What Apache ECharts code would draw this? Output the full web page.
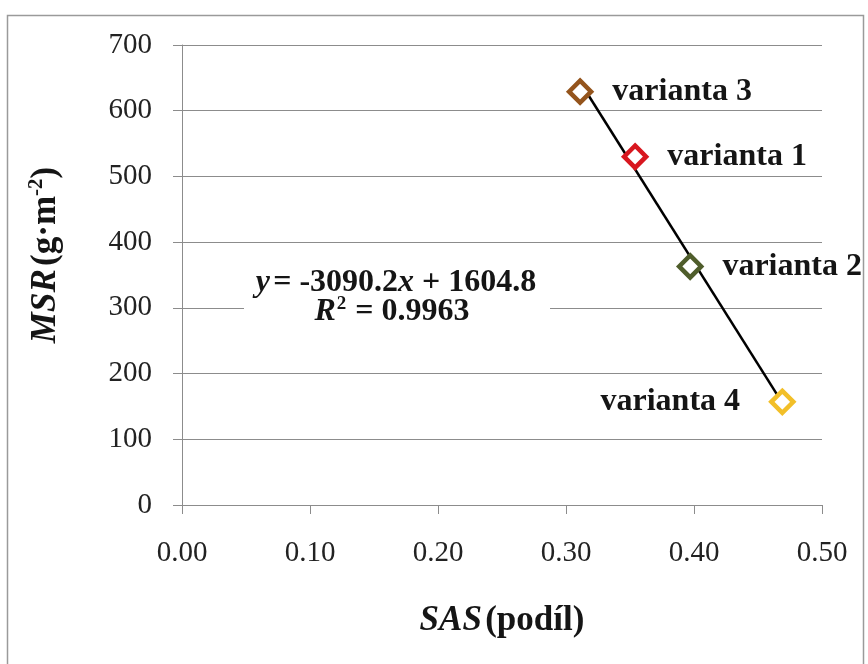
<!DOCTYPE html>
<html>
<head>
<meta charset="utf-8">
<script src="https://cdn.jsdelivr.net/npm/echarts@6/dist/echarts.min.js"></script>
<style>
  html, body { margin: 0; padding: 0; background: #ffffff; }
  #chart { width: 868px; height: 664px; }
</style>
</head>
<body>
<div id="chart"></div>
<script>
// Variants and their measured values
const categories = ['varianta 1', 'varianta 2', 'varianta 3', 'varianta 4'];
const sasValues = [0.354, 0.397, 0.311, 0.469];   // SAS (podíl)
const msrValues = [530, 363, 629, 157];           // MSR (g·m-2)
const markerColors = ['#d8171f', '#4f5d2b', '#94541c', '#f2bf28'];
const labelSides = ['right', 'right', 'right', 'left'];
const labelGaps = [19, 19, 19, 29];

// Axis ticks
const xTickValues = [0.0, 0.1, 0.2, 0.3, 0.4, 0.5];
const yTickValues = [0, 100, 200, 300, 400, 500, 600, 700];

// Linear trend line
const trendSlope = -3090.2;
const trendIntercept = 1604.8;
const trendR2 = 0.9963;

const serif = '"Liberation Serif", "Times New Roman", serif';
const ink = '#151515';

const pointData = categories.map((name, i) => ({
  name: name,
  value: [sasValues[i], msrValues[i]],
  itemStyle: { color: '#ffffff', borderColor: markerColors[i], borderWidth: 4.5, opacity: 1 },
  label: { position: labelSides[i], distance: labelGaps[i] }
}));

const xMin = Math.min(...sasValues);
const xMax = Math.max(...sasValues);
const trendData = [
  [xMin, trendSlope * xMin + trendIntercept],
  [xMax, trendSlope * xMax + trendIntercept]
];

const chart = echarts.init(document.getElementById('chart'), null, { renderer: 'canvas' });

chart.setOption({
  backgroundColor: '#ffffff',
  animation: false,
  grid: { left: 182, right: 46, top: 45, bottom: 159, containLabel: false },
  xAxis: {
    type: 'value',
    min: xTickValues[0],
    max: xTickValues[xTickValues.length - 1],
    interval: 0.1,
    axisLine: { lineStyle: { color: '#8c8c8c', width: 1 } },
    axisTick: { show: true, length: 9, lineStyle: { color: '#8c8c8c' } },
    splitLine: { show: false },
    axisLabel: {
      color: '#222', fontFamily: serif, fontSize: 29, margin: 34,
      formatter: v => v.toFixed(2)
    },
    name: '{i|SAS} {b|(podíl)}',
    nameLocation: 'middle',
    nameGap: 98,
    nameTextStyle: {
      rich: {
        i: { fontFamily: serif, fontSize: 35, fontWeight: 'bold', fontStyle: 'italic', color: ink },
        b: { fontFamily: serif, fontSize: 35, fontWeight: 'bold', color: ink }
      }
    }
  },
  yAxis: {
    type: 'value',
    min: yTickValues[0],
    max: yTickValues[yTickValues.length - 1],
    interval: 100,
    axisLine: { show: true, lineStyle: { color: '#8c8c8c', width: 1 } },
    axisTick: { show: true, length: 9, lineStyle: { color: '#8c8c8c' } },
    splitLine: { show: true, lineStyle: { color: '#8c8c8c', width: 1 } },
    axisLabel: { color: '#222', fontFamily: serif, fontSize: 29, margin: 30 }
  },
  series: [
    {
      type: 'line',
      name: 'trend',
      data: trendData,
      symbol: 'none',
      lineStyle: { color: '#000000', width: 2.5 },
      z: 3,
      silent: true
    },
    {
      type: 'scatter',
      name: 'varianty',
      data: pointData,
      symbol: 'diamond',
      symbolSize: 22,
      z: 4,
      itemStyle: { opacity: 1 },
      label: {
        show: true,
        formatter: p => p.name,
        fontFamily: serif,
        fontSize: 32,
        fontWeight: 'bold',
        color: ink,
        opacity: 1
      }
    }
  ],
  graphic: [
    {
      type: 'rect',
      left: 5, top: 13,
      shape: { width: 856, height: 660 },
      style: { fill: 'none', stroke: '#9a9a9a', lineWidth: 1.5 },
      silent: true,
      z: 10
    },
    // y-axis title, rotated
    {
      type: 'text',
      x: 45, y: 255,
      rotation: Math.PI / 2,
      z: 6,
      style: {
        text: '{i|MSR} {b|(g·m}{s|-2}{b|)}',
        align: 'center',
        verticalAlign: 'middle',
        rich: {
          i: { fontFamily: serif, fontSize: 35, fontWeight: 'bold', fontStyle: 'italic', fill: ink, verticalAlign: 'bottom' },
          b: { fontFamily: serif, fontSize: 35, fontWeight: 'bold', fill: ink, verticalAlign: 'bottom' },
          s: { fontFamily: serif, fontSize: 21, fontWeight: 'bold', fill: ink, verticalAlign: 'top', padding: [0, 0, 16, 0] }
        }
      }
    },
    // trend equation box
    {
      type: 'rect',
      left: 244, top: 264,
      shape: { width: 306, height: 62 },
      style: { fill: '#ffffff' },
      z: 5
    },
    {
      type: 'text',
      x: 396, y: 283,
      z: 6,
      style: {
        text: '{i|y} {n|= ' + trendSlope.toFixed(1) + '}{i|x}{n| + ' + trendIntercept.toFixed(1) + '}',
        align: 'center',
        verticalAlign: 'middle',
        rich: {
          i: { fontFamily: serif, fontSize: 32, fontWeight: 'bold', fontStyle: 'italic', fill: ink },
          n: { fontFamily: serif, fontSize: 32, fontWeight: 'bold', fill: ink }
        }
      }
    },
    {
      type: 'text',
      x: 392, y: 311,
      z: 6,
      style: {
        text: '{i|R}{s|2}{n| = ' + trendR2.toFixed(4) + '}',
        align: 'center',
        verticalAlign: 'middle',
        rich: {
          i: { fontFamily: serif, fontSize: 32, fontWeight: 'bold', fontStyle: 'italic', fill: ink, verticalAlign: 'bottom' },
          n: { fontFamily: serif, fontSize: 32, fontWeight: 'bold', fill: ink, verticalAlign: 'bottom' },
          s: { fontFamily: serif, fontSize: 19, fontWeight: 'bold', fill: ink, verticalAlign: 'top', padding: [0, 1, 14, 1] }
        }
      }
    }
  ]
});
</script>
</body>
</html>
